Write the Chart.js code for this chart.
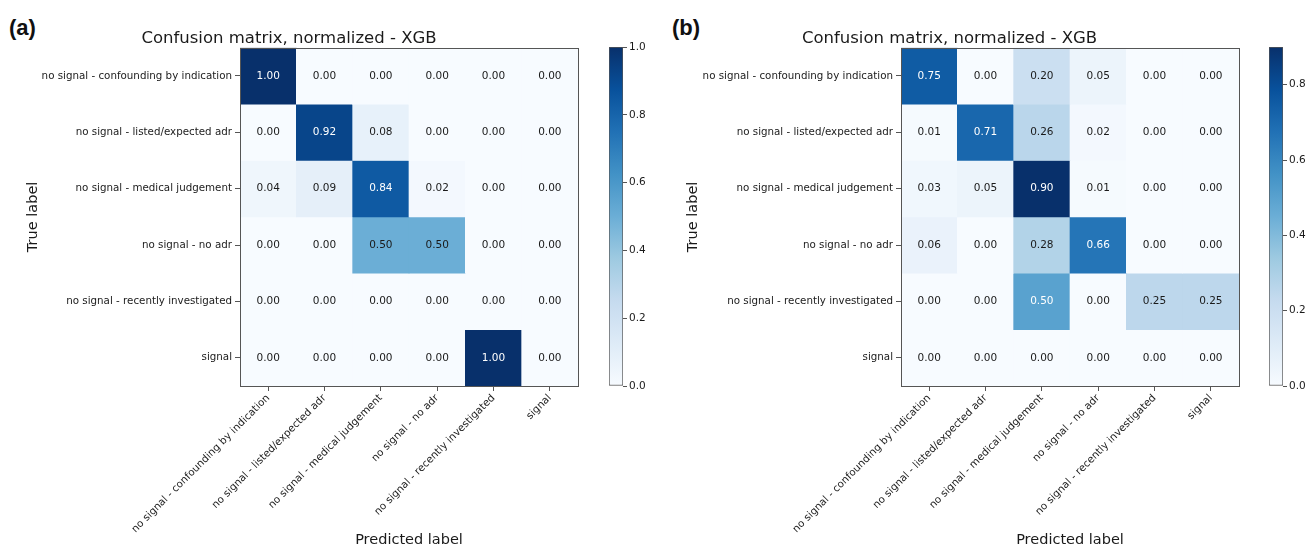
<!DOCTYPE html>
<html>
<head>
<meta charset="utf-8">
<script src="https://cdn.jsdelivr.net/npm/chart.js@4.4.1/dist/chart.umd.min.js"></script>
<style>
  html, body { margin: 0; padding: 0; background: #fff; }
  #wrap { position: relative; width: 1311px; height: 549px; overflow: hidden; font-family: "DejaVu Sans", sans-serif; }
  canvas { position: absolute; top: 0; }
  .tag { position: absolute; top: 15px; font: bold 22px "Liberation Sans", Arial, sans-serif; color: #111; }
</style>
</head>
<body>
<div id="wrap">
  <div class="tag" style="left:9px">(a)</div>
  <div class="tag" style="left:672px">(b)</div>
  <canvas id="cmA" width="600" height="549" style="left:0"></canvas>
  <canvas id="cbA" width="60" height="549" style="left:600px"></canvas>
  <canvas id="cmB" width="600" height="549" style="left:660px"></canvas>
  <canvas id="cbB" width="60" height="549" style="left:1260px"></canvas>
</div>
<script>
// dati
const classLabels = [
  'no signal - confounding by indication',
  'no signal - listed/expected adr',
  'no signal - medical judgement',
  'no signal - no adr',
  'no signal - recently investigated',
  'signal'
];
const chartTitle = 'Confusion matrix, normalized - XGB';

const matrixA = [
  [1.00, 0.00, 0.00, 0.00, 0.00, 0.00],
  [0.00, 0.92, 0.08, 0.00, 0.00, 0.00],
  [0.04, 0.09, 0.84, 0.02, 0.00, 0.00],
  [0.00, 0.00, 0.50, 0.50, 0.00, 0.00],
  [0.00, 0.00, 0.00, 0.00, 0.00, 0.00],
  [0.00, 0.00, 0.00, 0.00, 1.00, 0.00]
];
const matrixB = [
  [0.75, 0.00, 0.20, 0.05, 0.00, 0.00],
  [0.01, 0.71, 0.26, 0.02, 0.00, 0.00],
  [0.03, 0.05, 0.90, 0.01, 0.00, 0.00],
  [0.06, 0.00, 0.28, 0.66, 0.00, 0.00],
  [0.00, 0.00, 0.50, 0.00, 0.25, 0.25],
  [0.00, 0.00, 0.00, 0.00, 0.00, 0.00]
];
const colorbarTicksA = [0.0, 0.2, 0.4, 0.6, 0.8, 1.0];
const colorbarTicksB = [0.0, 0.2, 0.4, 0.6, 0.8];

// colormap Blues (matplotlib)
const bluesStops = ['#f7fbff', '#deebf7', '#c6dbef', '#9ecae1', '#6baed6', '#4292c6', '#2171b5', '#08519c', '#08306b'];

function hexToRgb(h) {
  return [parseInt(h.substr(1, 2), 16), parseInt(h.substr(3, 2), 16), parseInt(h.substr(5, 2), 16)];
}
function blues(t) {
  t = Math.max(0, Math.min(1, t));
  const pos = t * (bluesStops.length - 1);
  const i = Math.min(Math.floor(pos), bluesStops.length - 2);
  const f = pos - i;
  const a = hexToRgb(bluesStops[i]), b = hexToRgb(bluesStops[i + 1]);
  const c = a.map((v, k) => Math.round(v + (b[k] - v) * f));
  return `rgb(${c[0]},${c[1]},${c[2]})`;
}

const textColor = '#1a1a1a';
const frameColor = '#555';

// testo nelle celle
const cellText = {
  id: 'cellText',
  afterDatasetsDraw(chart) {
    const ctx = chart.ctx;
    const vmax = chart.options.plugins.cellText.vmax;
    ctx.save();
    ctx.font = '10.5px "DejaVu Sans"';
    ctx.textAlign = 'center';
    ctx.textBaseline = 'middle';
    chart.data.datasets.forEach((ds, r) => {
      const meta = chart.getDatasetMeta(r);
      meta.data.forEach((bar, c) => {
        const v = ds.values[c];
        ctx.fillStyle = v > vmax / 2 ? '#fff' : textColor;
        ctx.fillText(v.toFixed(2), bar.x, (bar.y + bar.base) / 2);
      });
    });
    ctx.restore();
  }
};

// cornice del grafico
const frame = {
  id: 'frame',
  afterDraw(chart) {
    const a = chart.chartArea;
    const ctx = chart.ctx;
    ctx.save();
    ctx.strokeStyle = frameColor;
    ctx.lineWidth = 1;
    ctx.strokeRect(Math.round(a.left) + 0.5, Math.round(a.top) + 0.5, Math.round(a.right - a.left), Math.round(a.bottom - a.top));
    ctx.restore();
  }
};

function matrixChart(id, matrix, yAxisWidth, xAxisHeight, padRight) {
  const vmax = Math.max(...matrix.flat());
  const datasets = matrix.map((row, r) => ({
    data: row.map(() => [r, r + 1]),
    values: row,
    backgroundColor: row.map(v => blues(v / vmax)),
    borderWidth: 0,
    barPercentage: 1,
    categoryPercentage: 1,
    grouped: false
  }));

  new Chart(document.getElementById(id), {
    type: 'bar',
    data: { labels: classLabels, datasets: datasets },
    options: {
      responsive: false,
      animation: false,
      layout: { padding: { top: 0, right: padRight, left: 0, bottom: 0 } },
      plugins: {
        legend: { display: false },
        tooltip: { enabled: false },
        title: {
          display: true,
          text: chartTitle,
          color: textColor,
          font: { family: 'DejaVu Sans', size: 16.5, weight: 'normal' },
          padding: { top: 29, bottom: -1 }
        },
        cellText: { vmax: vmax }
      },
      scales: {
        x: {
          type: 'category',
          offset: true,
          grid: { drawOnChartArea: false, offset: false, tickLength: 5, color: frameColor },
          border: { display: false },
          ticks: {
            color: textColor,
            font: { family: 'DejaVu Sans', size: 10.3 },
            minRotation: 45,
            maxRotation: 45,
            autoSkip: false,
            padding: 1
          },
          title: {
            display: true,
            text: 'Predicted label',
            color: textColor,
            font: { family: 'DejaVu Sans', size: 14.5 },
            padding: { top: 0, bottom: 0 }
          },
          afterFit: s => { s.height = xAxisHeight; }
        },
        y: {
          type: 'linear',
          min: 0,
          max: classLabels.length,
          reverse: true,
          afterBuildTicks: s => { s.ticks = classLabels.map((_, i) => ({ value: i + 0.5 })); },
          grid: { drawOnChartArea: false, tickLength: 5, color: frameColor },
          border: { display: false },
          ticks: {
            color: textColor,
            font: { family: 'DejaVu Sans', size: 10.3 },
            autoSkip: false,
            padding: 3,
            callback: (v, i) => classLabels[i]
          },
          title: {
            display: true,
            text: 'True label',
            color: textColor,
            font: { family: 'DejaVu Sans', size: 14.5 },
            padding: { top: 25, bottom: 0 }
          },
          afterFit: s => { s.width = yAxisWidth; }
        }
      }
    },
    plugins: [cellText, frame]
  });
}

function colorbarChart(id, vmax, ticks) {
  new Chart(document.getElementById(id), {
    type: 'bar',
    data: {
      labels: [''],
      datasets: [{
        data: [[0, vmax]],
        backgroundColor: c => {
          const area = c.chart.chartArea;
          if (!area) return bluesStops[0];
          const g = c.chart.ctx.createLinearGradient(0, area.bottom, 0, area.top);
          bluesStops.forEach((s, i) => g.addColorStop(i / (bluesStops.length - 1), s));
          return g;
        },
        borderColor: frameColor,
        borderWidth: 1,
        borderSkipped: false,
        barPercentage: 1,
        categoryPercentage: 1
      }]
    },
    options: {
      responsive: false,
      animation: false,
      layout: { padding: { top: 47, left: 9, right: 0, bottom: 163 } },
      plugins: { legend: { display: false }, tooltip: { enabled: false } },
      scales: {
        x: { display: false },
        y: {
          position: 'right',
          min: 0,
          max: vmax,
          afterBuildTicks: s => { s.ticks = ticks.map(v => ({ value: v })); },
          grid: { drawOnChartArea: false, tickLength: 4, color: frameColor },
          border: { display: false },
          ticks: {
            color: textColor,
            font: { family: 'DejaVu Sans', size: 10.5 },
            padding: 2,
            callback: v => v.toFixed(1)
          },
          afterFit: s => { s.width = 37; }
        }
      }
    }
  });
}

matrixChart('cmA', matrixA, 240, 163, 22);
colorbarChart('cbA', Math.max(...matrixA.flat()), colorbarTicksA);
matrixChart('cmB', matrixB, 241, 163, 21);
colorbarChart('cbB', Math.max(...matrixB.flat()), colorbarTicksB);
</script>
</body>
</html>
